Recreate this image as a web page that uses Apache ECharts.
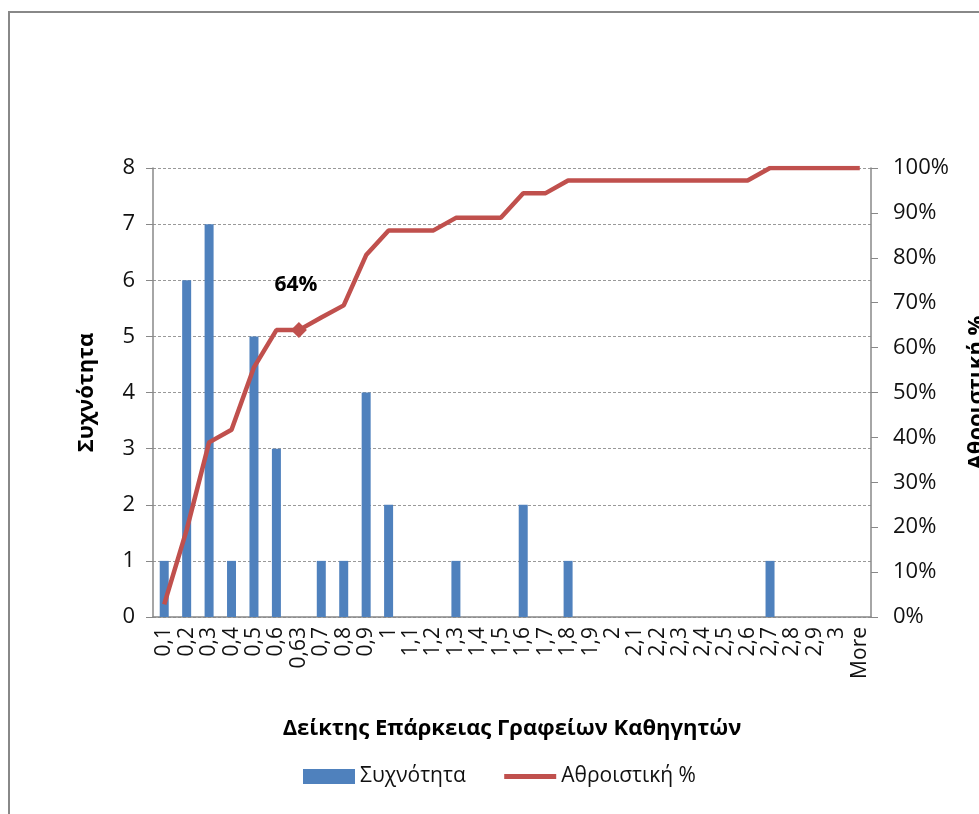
<!DOCTYPE html>
<html>
<head>
<meta charset="utf-8">
<script src="https://cdn.jsdelivr.net/npm/echarts@6/dist/echarts.min.js"></script>
<style>
  html, body { margin: 0; padding: 0; background: #fff; }
  #main { width: 979px; height: 814px; }
</style>
</head>
<body>
<div id="main"></div>
<script>
// κατηγορίες του ιστογράμματος
var categories = ['0,1','0,2','0,3','0,4','0,5','0,6','0,63','0,7','0,8','0,9','1','1,1','1,2','1,3','1,4','1,5',
  '1,6','1,7','1,8','1,9','2','2,1','2,2','2,3','2,4','2,5','2,6','2,7','2,8','2,9','3','More'];
// συχνότητα ανά κατηγορία
var frequency = [1,6,7,1,5,3,0,1,1,4,2,0,0,1,0,0,2,0,1,0,0,0,0,0,0,0,0,1,0,0,0,0];
// αθροιστικό ποσοστό (%)
var cumulative = [2.8,19.4,38.9,41.7,55.6,63.9,63.9,66.7,69.4,80.6,86.1,86.1,86.1,88.9,88.9,88.9,
  94.4,94.4,97.2,97.2,97.2,97.2,97.2,97.2,97.2,97.2,97.2,100,100,100,100,100];
var markIndex = 6; // σημείο 0,63 με την ετικέτα 64%
var markLabel = '64%';

var font = '"Open Sans", "Noto Sans", sans-serif';
var red = '#C0504D';

var lineData = cumulative.map(function (v, i) {
  if (i === markIndex) {
    return {
      value: v,
      symbol: 'diamond',
      symbolSize: 16,
      label: {
        show: true,
        position: 'top',
        distance: 27,
        formatter: markLabel,
        fontFamily: font,
        fontWeight: 'bold',
        fontSize: 21,
        color: '#000',
        offset: [-3, 0]
      }
    };
  }
  return v;
});

var chart = echarts.init(document.getElementById('main'));
chart.setOption({
  backgroundColor: '#fff',
  animation: false,
  textStyle: { fontFamily: font },
  graphic: [{
    type: 'rect',
    shape: { x: 9, y: 12, width: 1100, height: 1000 },
    style: { fill: 'none', stroke: '#888', lineWidth: 2 },
    silent: true
  }],
  grid: { left: 153, right: 108, top: 168, bottom: 197, outerBoundsMode: 'none' },
  legend: {
    data: [
      { name: 'Συχνότητα', icon: 'rect' },
      { name: 'Αθροιστική %', itemStyle: { opacity: 0 }, lineStyle: { width: 5, color: red } }
    ],
    bottom: 22,
    left: 298,
    itemWidth: 52,
    itemHeight: 15,
    itemGap: 36,
    textStyle: { fontFamily: font, fontSize: 21, color: '#111' }
  },
  xAxis: {
    type: 'category',
    data: categories,
    boundaryGap: true,
    name: 'Δείκτης Επάρκειας Γραφείων Καθηγητών',
    nameLocation: 'middle',
    nameGap: 101,
    nameTextStyle: { fontFamily: font, fontWeight: 'bold', fontSize: 22, color: '#000' },
    axisLine: { lineStyle: { color: '#888', width: 1.5 } },
    axisTick: { show: false },
    axisLabel: { rotate: 90, interval: 0, margin: 10, fontSize: 21, color: '#111', fontFamily: font }
  },
  yAxis: [{
    type: 'value',
    min: 0,
    max: 8,
    interval: 1,
    name: 'Συχνότητα',
    nameLocation: 'middle',
    nameRotate: 90,
    nameGap: 55,
    nameTextStyle: { fontFamily: font, fontWeight: 'bold', fontSize: 22, color: '#000' },
    axisLine: { show: true, lineStyle: { color: '#888', width: 1.5 } },
    axisTick: { show: true, length: 7, lineStyle: { color: '#888' } },
    axisLabel: { fontSize: 22, color: '#111', margin: 18, fontFamily: font },
    splitLine: { show: true, lineStyle: { color: '#999', type: [3, 2], width: 1 } }
  }, {
    type: 'value',
    position: 'right',
    min: 0,
    max: 100,
    interval: 10,
    name: 'Αθροιστική %',
    nameLocation: 'middle',
    nameRotate: 90,
    nameGap: 95,
    nameTextStyle: { fontFamily: font, fontWeight: 'bold', fontSize: 22, color: '#000' },
    axisLine: { show: true, lineStyle: { color: '#888', width: 1.5 } },
    axisTick: { show: true, length: 7, lineStyle: { color: '#888' } },
    axisLabel: { fontSize: 22, color: '#111', margin: 22, formatter: '{value}%', fontFamily: font },
    splitLine: { show: false }
  }],
  series: [{
    name: 'Συχνότητα',
    type: 'bar',
    yAxisIndex: 0,
    barWidth: 9,
    itemStyle: { color: '#4F81BD' },
    data: frequency
  }, {
    name: 'Αθροιστική %',
    type: 'line',
    yAxisIndex: 1,
    symbol: 'none',
    lineStyle: { color: red, width: 4.5 },
    itemStyle: { color: red },
    data: lineData
  }]
});
</script>
</body>
</html>
